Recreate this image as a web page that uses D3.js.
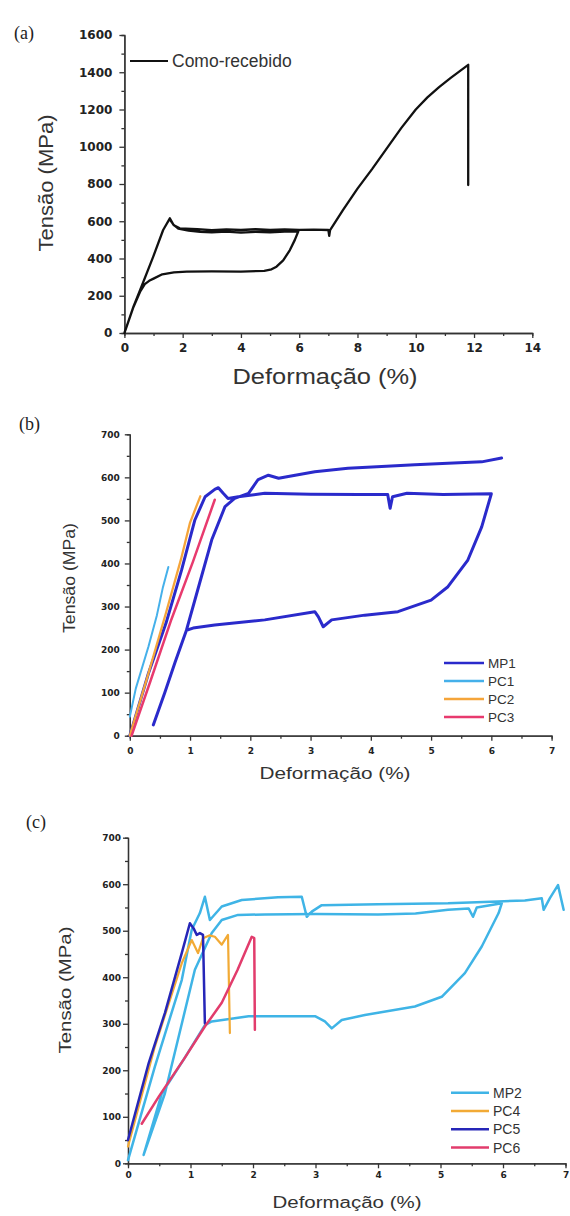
<!DOCTYPE html>
<html>
<head>
<meta charset="utf-8">
<script src="https://cdn.jsdelivr.net/npm/d3@7"></script>
<style>
body { margin: 0; background: #fff; }
svg { display: block; }
</style>
</head>
<body>
<div id="chart"></div>
<script>
// tick values
var aStrainTicks = [0, 2, 4, 6, 8, 10, 12, 14];
var aStressTicks = [0, 200, 400, 600, 800, 1000, 1200, 1400, 1600];
var bcStrainTicks = [0, 1, 2, 3, 4, 5, 6, 7];
var bcStressTicks = [0, 100, 200, 300, 400, 500, 600, 700];

// (a) as-received wire: load, unload, reload to fracture  [strain %, stress MPa]
var comoRecebido = [
  [0,0],[0.31,141],[0.54,231],[0.99,410],[1.33,553],[1.56,616],[1.68,582],[1.85,560],[2.2,550],
  [2.6,543],[3,540],[3.5,544],[4,539],[4.5,543],[5,541],[5.5,545],[5.97,546],
  [5.85,500],[5.68,445],[5.45,390],[5.22,356],[5.05,342],[4.8,334],[4,330],[3,331],[2.14,329],
  [1.7,325],[1.3,315],[1.0,292],[0.85,280],[0.7,262],[0.55,225],[0.3,135],[0,0],
  [0.31,141],[0.54,231],[0.99,410],[1.33,553],[1.55,612],[1.7,578],[1.9,562],[2.5,557],
  [3,552],[3.5,556],[4,553],[4.5,557],[5,553],[5.5,556],[6,554],[6.5,555],[7.0,553],
  [7.03,522],[7.06,552],[7.5,660],[8.0,775],[8.5,880],[9.0,990],[9.5,1100],[10.0,1200],
  [10.4,1265],[10.8,1320],[11.2,1370],[11.5,1405],[11.8,1440],[11.8,794]
];

// (b)
var mp1 = [
  [0,0],[0.31,145],[0.6,261],[0.86,385],[1.08,501],[1.25,555],[1.41,572],[1.47,576],[1.55,563],
  [1.63,551],[1.8,555],[2.24,563],[3,561],[3.8,560],[4.28,560],[4.32,528],[4.36,555],[4.6,563],
  [5.2,560],[6.0,562],
  [5.84,485],[5.61,408],[5.28,346],[5.0,315],[4.45,288],[3.9,280],[3.35,269],[3.21,253],[3.13,276],
  [3.07,288],[2.24,269],[1.41,257],[1.05,250],[0.94,245],[0.75,170],[0.58,100],[0.39,25],
  [0.58,100],[0.75,170],[0.94,245],[1.15,350],[1.36,455],[1.58,532],[1.74,551],[1.97,563],
  [2.13,595],[2.3,605],[2.47,598],[2.63,602],[3.07,613],[3.62,621],[4.18,625],[4.73,629],
  [5.28,633],[5.84,636],[6.17,645]
];
var pc1 = [[0,44],[0.1,110],[0.31,207],[0.45,280],[0.55,345],[0.64,392]];
var pc2 = [[0,0],[0.3,140],[0.6,285],[0.85,410],[1.0,495],[1.17,556]];
var pc3 = [[0.03,0],[0.35,130],[0.69,270],[1.05,405],[1.41,548]];

// (c)  null = break in the trace
var mp2 = [
  [0.25,18],[0.59,150],[1.07,416],[1.34,495],[1.5,523],[1.76,534],[2.19,535],[3,536],[4,535],
  [4.6,537],[5.12,545],[5.45,548],[5.52,530],[5.58,550],[5.98,559],
  [5.93,538],[5.66,466],[5.39,409],[5.02,358],[4.59,337],[3.79,319],[3.42,308],[3.26,290],[3.15,305],
  [3.0,316],[1.93,316],[1.34,305],[1.23,297],[0.9,225],[0.54,150],[0.42,95],[0.25,18],
  null,
  [0,7],[0.43,208],[0.86,394],[1.02,502],[1.15,538],[1.23,573],[1.31,523],[1.5,552],[1.82,566],
  [2.4,572],[2.78,573],[2.86,530],[2.94,541],[3.1,555],[4,557],[5.12,559],[5.92,563],[6.35,565],
  [6.62,570],[6.65,545],[6.75,570],[6.88,598],[6.97,545]
];
var pc4 = [[0,36],[0.43,251],[0.86,430],[1.02,480],[1.07,466],[1.12,452],[1.2,484],[1.3,490],
  [1.39,487],[1.5,470],[1.6,491],[1.63,280]];
var pc5 = [[0,50],[0.33,215],[0.59,323],[0.86,452],[0.99,516],[1.05,505],[1.1,491],[1.15,495],
  [1.2,491],[1.23,301]];
var pc6 = [[0.22,85],[0.5,145],[0.9,225],[1.23,294],[1.5,345],[1.75,415],[1.98,487],
  [2.02,484],[2.03,287]];

var svg = d3.select("#chart").append("svg")
  .attr("width", 570)
  .attr("height", 1216);

function minorTicks(major) {
  var out = [];
  for (var i = 0; i < major.length - 1; i++) out.push((major[i] + major[i + 1]) / 2);
  return out;
}

function drawPanel(p) {
  var x = d3.scaleLinear().domain([p.xTicks[0], p.xTicks[p.xTicks.length - 1]]).range(p.xRange);
  var y = d3.scaleLinear().domain([p.yTicks[0], p.yTicks[p.yTicks.length - 1]]).range(p.yRange);
  var g = svg.append("g");

  // minor ticks
  g.append("g")
    .attr("transform", "translate(0," + p.yRange[0] + ")")
    .call(d3.axisBottom(x).tickValues(minorTicks(p.xTicks)).tickSize(3).tickFormat(""));
  g.append("g")
    .attr("transform", "translate(" + p.xRange[0] + ",0)")
    .call(d3.axisLeft(y).tickValues(minorTicks(p.yTicks)).tickSize(3).tickFormat(""));

  // major axes
  var xa = g.append("g")
    .attr("transform", "translate(0," + p.yRange[0] + ")")
    .call(d3.axisBottom(x).tickValues(p.xTicks).tickFormat(d3.format("d"))
      .tickSize(5).tickPadding(p.xPad).tickSizeOuter(0));
  var ya = g.append("g")
    .attr("transform", "translate(" + p.xRange[0] + ",0)")
    .call(d3.axisLeft(y).tickValues(p.yTicks).tickFormat(d3.format("d"))
      .tickSize(5).tickPadding(p.yPad).tickSizeOuter(0));

  g.selectAll(".domain, .tick line").attr("stroke", "#333").attr("stroke-width", 1.3);
  [xa, ya].forEach(function (a) {
    a.selectAll("text")
      .attr("font-family", "'DejaVu Sans', sans-serif")
      .attr("font-weight", "bold")
      .attr("font-size", p.tickFont)
      .attr("fill", "#222");
  });

  var line = d3.line()
    .defined(function (d) { return d != null; })
    .x(function (d) { return x(d[0]); })
    .y(function (d) { return y(d[1]); });

  p.series.forEach(function (s) {
    g.append("path")
      .datum(s.data)
      .attr("d", line)
      .attr("fill", "none")
      .attr("stroke", s.color)
      .attr("stroke-width", s.width)
      .attr("stroke-linejoin", "round")
      .attr("stroke-linecap", "round");
  });

  // legend
  p.series.forEach(function (s, i) {
    var ly = p.legend.y + i * p.legend.step;
    g.append("line")
      .attr("x1", p.legend.x).attr("x2", p.legend.x + p.legend.len)
      .attr("y1", ly).attr("y2", ly)
      .attr("stroke", s.color).attr("stroke-width", p.legend.lw);
    g.append("text")
      .attr("x", p.legend.x + p.legend.len + 4)
      .attr("y", ly)
      .attr("dy", "0.35em")
      .attr("font-family", "'Liberation Sans', Arial, sans-serif")
      .attr("font-size", p.legend.font)
      .attr("fill", "#333")
      .text(s.name);
  });

  // axis titles
  g.append("text")
    .attr("x", p.xTitle.x).attr("y", p.xTitle.y)
    .attr("text-anchor", "middle")
    .attr("dy", "0.35em")
    .attr("font-family", "'Liberation Sans', Arial, sans-serif")
    .attr("font-size", p.xTitle.size)
    .attr("textLength", p.xTitle.len)
    .attr("lengthAdjust", "spacingAndGlyphs")
    .attr("fill", "#333")
    .text("Deformação (%)");
  g.append("text")
    .attr("transform", "translate(" + p.yTitle.x + "," + p.yTitle.y + ") rotate(-90)")
    .attr("text-anchor", "middle")
    .attr("dy", "0.35em")
    .attr("font-family", "'Liberation Sans', Arial, sans-serif")
    .attr("font-size", p.yTitle.size)
    .attr("textLength", p.yTitle.len)
    .attr("lengthAdjust", "spacingAndGlyphs")
    .attr("fill", "#333")
    .text("Tensão (MPa)");

  // panel tag
  g.append("text")
    .attr("x", p.tag.x).attr("y", p.tag.y)
    .attr("dy", "0.35em")
    .attr("font-family", "'Liberation Serif', 'Times New Roman', serif")
    .attr("font-size", 18)
    .attr("fill", "#222")
    .text(p.tag.text);
}

drawPanel({
  xTicks: aStrainTicks, yTicks: aStressTicks,
  xRange: [124.4, 532.3], yRange: [333, 35],
  xPad: 5, yPad: 7, tickFont: 12,
  series: [{ name: "Como-recebido", data: comoRecebido, color: "#111", width: 2.3 }],
  legend: { x: 130, y: 61, step: 18, len: 38, lw: 2, font: 17.5 },
  xTitle: { x: 325, y: 376, size: 22, len: 185 },
  yTitle: { x: 46, y: 183, size: 20, len: 137 },
  tag: { text: "(a)", x: 14, y: 33 }
});

drawPanel({
  xTicks: bcStrainTicks, yTicks: bcStressTicks,
  xRange: [129.8, 551.6], yRange: [735.7, 434.3],
  xPad: 7, yPad: 5, tickFont: 9,
  series: [
    { name: "MP1", data: mp1, color: "#2a2acb", width: 3 },
    { name: "PC1", data: pc1, color: "#45b0ea", width: 2 },
    { name: "PC2", data: pc2, color: "#f5a53a", width: 2.3 },
    { name: "PC3", data: pc3, color: "#e83a6e", width: 2.5 }
  ],
  legend: { x: 444, y: 663, step: 18, len: 40, lw: 2.5, font: 13.5 },
  xTitle: { x: 335, y: 773, size: 16, len: 151 },
  yTitle: { x: 69, y: 578, size: 17, len: 110 },
  tag: { text: "(b)", x: 19, y: 424 }
});

drawPanel({
  xTicks: bcStrainTicks, yTicks: bcStressTicks,
  xRange: [128, 565.5], yRange: [1163.3, 837.7],
  xPad: 3, yPad: 2, tickFont: 9,
  series: [
    { name: "MP2", data: mp2, color: "#3fb4e6", width: 2.5 },
    { name: "PC4", data: pc4, color: "#f2aa35", width: 2.2 },
    { name: "PC5", data: pc5, color: "#2626b8", width: 2.5 },
    { name: "PC6", data: pc6, color: "#e23c6c", width: 2.5 }
  ],
  legend: { x: 451, y: 1092.7, step: 18.3, len: 38, lw: 2.5, font: 14 },
  xTitle: { x: 347, y: 1202, size: 16, len: 149 },
  yTitle: { x: 65, y: 990, size: 17, len: 127 },
  tag: { text: "(c)", x: 26, y: 822 }
});
</script>
</body>
</html>
